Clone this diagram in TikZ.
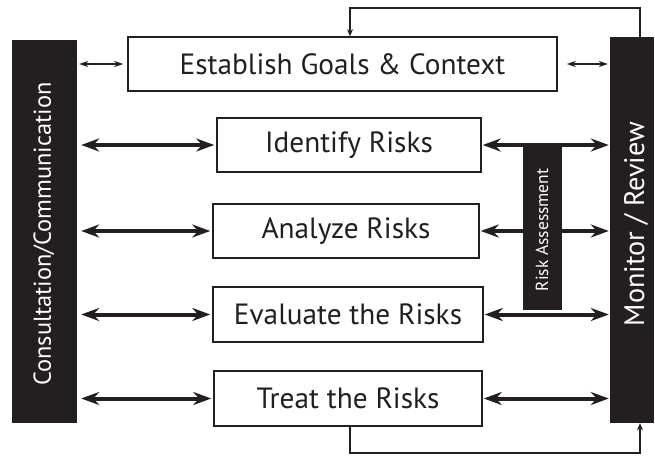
\documentclass[tikz,border=0pt]{standalone}
\usepackage{fontspec}
\setmainfont{PT Sans}
\usetikzlibrary{arrows.meta, positioning}
\definecolor{barfill}{RGB}{35,31,32}
\tikzset{
x=1pt, y=-1pt, % one unit per pixel of the layout, y grows downwards
stage/.style={draw=barfill, line width=1.5pt, inner sep=0pt, minimum height=54pt, text=barfill, font=\fontsize{29.3}{30}\selectfont}, % the process boxes
sidebar/.style={fill=barfill, text=white, inner sep=0pt}, % the black side bars
barlabel/.style={text=white, inner sep=0pt, rotate=90}, % white text running up a bar
bigarrow/.style={{Stealth[length=18pt,width=13pt]}-{Stealth[length=18pt,width=13pt]}, line width=4pt, draw=barfill}, % thick two-way arrows
smallarrow/.style={{Stealth[length=9pt,width=6pt]}-{Stealth[length=9pt,width=6pt]}, line width=1.3pt, draw=barfill}, % thin two-way arrows
feedback/.style={-{Stealth[length=7pt,width=6pt]}, line width=1.3pt, draw=barfill}, % the loops round the top and bottom
}

\begin{document}
\begin{tikzpicture}
    \useasboundingbox (0,0) rectangle (655,455);
    \node[sidebar, minimum width=65pt, minimum height=383pt] (consult) at (44.5,231.5) {};
    \node[barlabel, font=\fontsize{24.4}{25}\selectfont] (consulttext) at (44,234) {Consultation/Communication};
    \node[sidebar, minimum width=44pt, minimum height=386pt] (monitor) at (632,230) {};
    \node[barlabel, font=\fontsize{28.2}{29}\selectfont] (monitortext) at (636,224) {Monitor / Review};
    \node[stage, minimum width=429pt] (goals) at (342.5,64) {Establish Goals \& Context};
    \node[stage, minimum width=264pt] (identify) at (349,145) {Identify Risks};
    \node[stage, minimum width=266pt] (analyze) at (346,231) {Analyze Risks};
    \node[stage, minimum width=270pt, minimum height=55pt] (evaluate) at (348,314.5) {Evaluate the Risks};
    \node[stage, minimum width=268pt, minimum height=55pt] (treat) at (348,398.5) {Treat the Risks};
    \draw[smallarrow, shorten <=2pt, shorten >=4pt] (consult.east |- goals) -- (goals.west);
    \draw[smallarrow, shorten <=9pt, shorten >=2pt] (goals.east) -- (monitor.west |- goals);
    \draw[bigarrow, shorten <=4pt, shorten >=2pt] (consult.east |- identify) -- (identify.west);
    \draw[bigarrow, shorten <=4pt, shorten >=2pt] (consult.east |- analyze) -- (analyze.west);
    \draw[bigarrow, shorten <=4pt, shorten >=2pt] (consult.east |- evaluate) -- (evaluate.west);
    \draw[bigarrow, shorten <=4pt, shorten >=2pt] (consult.east |- treat) -- (treat.west);
    \draw[bigarrow, shorten <=1pt, shorten >=1pt] (identify.east) -- (monitor.west |- identify);
    \draw[bigarrow, shorten <=1pt, shorten >=1pt] (analyze.east) -- (monitor.west |- analyze);
    \draw[bigarrow, shorten <=1pt, shorten >=1pt] (evaluate.east) -- (monitor.west |- evaluate);
    \draw[bigarrow, shorten <=1pt, shorten >=1pt] (treat.east) -- (monitor.west |- treat);
    \node[sidebar, minimum width=39pt, minimum height=163pt] (assess) at (542.5,228.5) {};
    \node[barlabel, font=\fontsize{17.5}{18}\selectfont] (assesstext) at (542,230) {Risk Assessment};
    \coordinate (topleft) at (350,8);
    \coordinate (topright) at (640,8);
    \coordinate (botleft) at (350,453);
    \coordinate (botright) at (640,453);
    \draw[feedback] (monitor.north -| topright) -- (topright) -- (topleft) -- (goals.north -| topleft);
    \draw[feedback] (treat.south -| botleft) -- (botleft) -- (botright) -- (monitor.south -| botright);
\end{tikzpicture}
\end{document}
